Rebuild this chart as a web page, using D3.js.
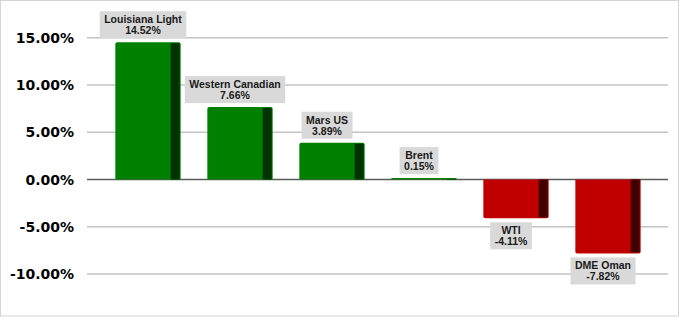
<!DOCTYPE html>
<html>
<head>
<meta charset="UTF-8">
<title>Crude grades</title>
<style>
  body { margin: 0; background: #fff; }
  #chart svg { display: block; }
  .tick-label { font-family: "DejaVu Sans", Verdana, sans-serif; font-weight: bold; font-size: 14px; fill: #000; }
  .bar-label text { font-family: "Liberation Sans", Arial, sans-serif; font-weight: bold; font-size: 10.5px; fill: #1a1a1a; text-anchor: middle; }
</style>
</head>
<body>
<div id="chart"></div>
<script src="https://d3js.org/d3.v7.min.js"></script>
<script>
const grades = ["Louisiana Light", "Western Canadian", "Mars US", "Brent", "WTI", "DME Oman"];
const changes = [14.52, 7.66, 3.89, 0.15, -4.11, -7.82];
const yTicks = [15, 10, 5, 0, -5, -10];

const width = 680, height = 317;
const svg = d3.select("#chart").append("svg").attr("width", width).attr("height", height);

// hyphen minus like the original, not the unicode one
const pct = d3.formatLocale({ decimal: ".", thousands: ",", grouping: [3], currency: ["", ""], minus: "-" })
  .format(".2f");

// outer frame
svg.append("rect").attr("x", 0.5).attr("y", 0.5).attr("width", 678).attr("height", 315.5)
  .attr("fill", "#fff").attr("stroke", "#d4d4d4");

const x = d3.scaleBand().domain(grades).range([102, 654]).paddingInner(0.29).paddingOuter(0.145);
const y = d3.scaleLinear().domain([-10, 15]).range([274, 37.7]);

const gridLeft = 87, gridRight = 668;

// grid lines + labels
svg.append("g").selectAll("line").data(yTicks).join("line")
  .attr("x1", gridLeft).attr("x2", gridRight)
  .attr("y1", d => y(d)).attr("y2", d => y(d))
  .attr("stroke", d => d === 0 ? "#5a5a5a" : "#c4c4c4")
  .attr("stroke-width", d => d === 0 ? 1.3 : 1.5);

svg.append("g").selectAll("text").data(yTicks).join("text")
  .attr("class", "tick-label")
  .attr("x", 74).attr("y", d => y(d)).attr("dy", "0.36em")
  .attr("text-anchor", "end")
  .text(d => pct(d) + "%");

const data = grades.map((g, i) => ({ name: g, value: changes[i] }));
const side = 10;

function barPath(d) {
  const x0 = x(d.name), w = x.bandwidth();
  const top = y(Math.max(0, d.value)), bot = y(Math.min(0, d.value));
  const r = Math.min(2, (bot - top) / 2);
  return `M${x0},${bot - (d.value < 0 ? r : 0)}` +
    `L${x0},${top + (d.value > 0 ? r : 0)}` +
    (d.value > 0 ? `Q${x0},${top} ${x0 + r},${top}L${x0 + w - r},${top}Q${x0 + w},${top} ${x0 + w},${top + r}` :
      `L${x0 + w},${top}`) +
    `L${x0 + w},${bot - (d.value < 0 ? r : 0)}` +
    (d.value < 0 ? `Q${x0 + w},${bot} ${x0 + w - r},${bot}L${x0 + r},${bot}Q${x0},${bot} ${x0},${bot - r}` : `L${x0},${bot}`) + "Z";
}

const bars = svg.append("g").selectAll("g").data(data).join("g");
bars.append("path").attr("d", barPath)
  .attr("fill", d => d.value >= 0 ? "#008000" : "#c00000");
bars.append("rect")
  .attr("x", d => x(d.name) + x.bandwidth() - side)
  .attr("y", d => y(Math.max(0, d.value)) + (d.value > 0 ? 1 : 0))
  .attr("width", side - 1)
  .attr("height", d => Math.max(0.5, Math.abs(y(d.value) - y(0)) - 1))
  .attr("fill", d => d.value >= 0 ? "#003300" : "#400000");

// data labels
const labels = svg.append("g").selectAll("g").data(data).join("g").attr("class", "bar-label");
labels.each(function (d) {
  const g = d3.select(this);
  const cx = x(d.name) + (x.bandwidth() - side) / 2;
  const boxH = 27;
  const top = d.value >= 0 ? y(d.value) - 4 - boxH : y(d.value) + 4;
  const rect = g.append("rect").attr("fill", "#d9d9d9");
  const t1 = g.append("text").attr("x", cx).attr("y", top + 12).text(d.name);
  const t2 = g.append("text").attr("x", cx).attr("y", top + 23).text(pct(d.value) + "%");
  const w = Math.max(t1.node().getComputedTextLength(), t2.node().getComputedTextLength()) + 9;
  rect.attr("x", cx - w / 2).attr("y", top).attr("width", w).attr("height", boxH);
});
</script>
</body>
</html>
